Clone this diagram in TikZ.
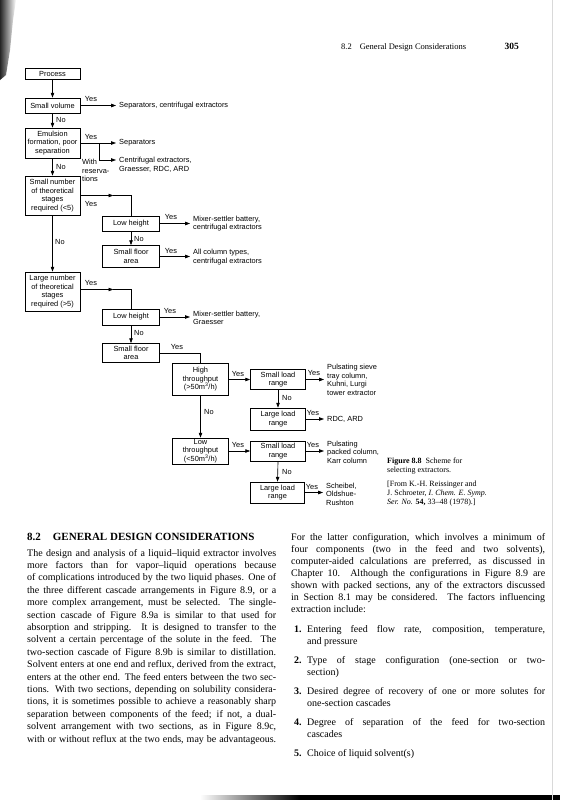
\documentclass[tikz,border=0pt]{standalone}
\usepackage{fontspec}
\setmainfont{Liberation Serif}
\newfontfamily\flowfont{Liberation Sans}
\usetikzlibrary{arrows.meta}
\newcommand{\JL}[1]{\hbox to \hsize{#1}}
\newcommand{\LL}[1]{\hbox{#1}}
\newcommand{\ITM}[2]{\hbox to \hsize{\hbox to 16pt{\hskip3pt\bfseries #1\hfil}\hbox to \dimexpr\hsize-16pt\relax{#2}}}
\newcommand{\ITL}[2]{\hbox{\hbox to 16pt{\hskip3pt\bfseries #1\hfil}#2}}
\newcommand{\ICL}[1]{\hbox{\hskip16pt #1}}
\begin{document}
\begin{tikzpicture}[x=1pt,y=-1pt,
  ff/.style={font=\flowfont\fontsize{7.4}{8.5}\selectfont},
  box/.style={ff,draw,line width=0.65pt,inner sep=0.5pt,align=center},
  ft/.style={ff,inner sep=0pt,align=left},
  lbl/.style={ff,inner sep=0pt},
  arr/.style={line width=0.65pt,-{Triangle[length=4.8pt,width=3.4pt]}},
  oarr/.style={arr,shorten >=3pt},
  ln/.style={line width=0.65pt},
]
\fill[white] (0,0) rectangle (560,800);
\useasboundingbox (0,0) rectangle (560,800);

% scan artefacts
\shade[left color=black!85, right color=white] (0,0) -- (16,0) -- (13,20) -- (10,50) -- (6,75) -- (0,80) -- cycle;
\shade[left color=white, right color=black] (200,795) rectangle (300,800);
\fill[black] (300,795) rectangle (560,800);
\draw[gray!30, line width=0.6pt] (552,0) -- (552,800);

% header
\node[anchor=base west,inner sep=0] (hdr) at (341,49) {\fontsize{8.5}{10}\selectfont 8.2\hskip 8pt General Design Considerations};
\node[anchor=base east,inner sep=0] (pg) at (519,49) {\fontsize{9.5}{10}\selectfont\bfseries 305};

% flowchart boxes
\node[box,minimum width=55pt,minimum height=11pt] (proc) at (52.5,73.5) {Process};
\node[box,minimum width=55pt,minimum height=15pt] (svol) at (52.5,105.5) {Small volume};
\node[box,minimum width=55pt,minimum height=30pt] (emul) at (52.5,143) {Emulsion\\formation, poor\\separation};
\node[box,minimum width=55pt,minimum height=39pt] (snum) at (52.5,195.5) {Small number\\of theoretical\\stages\\required (<5)};
\node[box,minimum width=55pt,minimum height=39pt] (lnum) at (52.5,291.5) {Large number\\of theoretical\\stages\\required (>5)};
\node[box,minimum width=57pt,minimum height=15pt] (lh1) at (131,223.5) {Low height};
\node[box,minimum width=57pt,minimum height=22pt] (fa1) at (131,256.5) {Small floor\\area};
\node[box,minimum width=57pt,minimum height=16pt] (lh2) at (131,317) {Low height};
\node[box,minimum width=57pt,minimum height=19pt] (fa2) at (131,353) {Small floor\\area};
\node[box,minimum width=56pt,minimum height=32pt] (high) at (200.5,379.5) {High\\throughput\\(>50m\textsuperscript{3}/h)};
\node[box,minimum width=55pt,minimum height=20pt] (sl1) at (278,379.5) {Small load\\range};
\node[box,minimum width=55pt,minimum height=22pt] (ll1) at (278,419) {Large load\\range};
\node[box,minimum width=56pt,minimum height=26pt] (low) at (200.5,451) {Low\\throughput\\(<50m\textsuperscript{3}/h)};
\node[box,minimum width=55pt,minimum height=20pt] (sl2) at (278,451) {Small load\\range};
\node[box,minimum width=54pt,minimum height=21pt] (ll2) at (277.5,492.5) {Large load\\range};

% outcomes
\node[ft,anchor=west] (o1) at (119,105.5) {Separators, centrifugal extractors};
\node[ft,anchor=west] (o2) at (119,143) {Separators};
\node[ft,anchor=north west] (o3) at (119,157) {Centrifugal extractors,\\Graesser, RDC, ARD};
\node[ft,anchor=north west] (wr) at (82,159) {With\\reserva-\\tions};
\node[ft,anchor=west] (o4) at (193,223.5) {Mixer-settler battery,\\centrifugal extractors};
\node[ft,anchor=west] (o5) at (193,257) {All column types,\\centrifugal extractors};
\node[ft,anchor=west] (o6) at (193,318) {Mixer-settler battery,\\Graesser};
\node[ft,anchor=west] (o7) at (327,380) {Pulsating sieve\\tray column,\\Kuhni, Lurgi\\tower extractor};
\node[ft,anchor=west] (o8) at (327,419) {RDC, ARD};
\node[ft,anchor=west] (o9) at (327,452) {Pulsating\\packed column,\\Karr column};
\node[ft,anchor=west] (o10) at (326,494) {Scheibel,\\Oldshue-\\Rushton};

% connectors
\draw[arr] (proc.south) -- (svol.north);
\draw[arr] (svol.south) -- (emul.north);
\draw[arr] (emul.south) -- (snum.north);
\draw[arr] (snum.south) -- (lnum.north);
\node[lbl,anchor=west] (n1) at (56,120) {No};
\node[lbl,anchor=west] (n2) at (56,167) {No};
\node[lbl,anchor=west] (n3) at (55,242) {No};

\draw[oarr] (svol.east) -- (o1.west);
\node[lbl] (y1) at (91,99) {Yes};
\draw[oarr] (emul.east) -- (o2.west);
\node[lbl] (y2) at (91,137) {Yes};
\draw[ln] (emul.east) ++(19,0) coordinate (b1) -- ++(0,17) coordinate (b2);
\draw[oarr] (b2) -- (o3.west |- b2);

\draw[arr] (snum.east) -- ++(33,0) coordinate (m1);
\draw[ln] (m1) -| (lh1.north);
\node[lbl] (y3) at (91,204) {Yes};
\draw[oarr] (lh1.east) -- (lh1.east -| o4.west);
\node[lbl] (y4) at (171,217) {Yes};
\draw[arr] (lh1.south) -- (fa1.north);
\node[lbl,anchor=west] (n4) at (134,239) {No};
\draw[oarr] (fa1.east) -- (fa1.east -| o5.west);
\node[lbl] (y5) at (171,251) {Yes};

\draw[arr] ([yshift=2pt]lnum.east) -- ++(33,0) coordinate (m2);
\draw[ln] (m2) -| (lh2.north);
\node[lbl] (y6) at (91,283) {Yes};
\draw[oarr] (lh2.east) -- (lh2.east -| o6.west);
\node[lbl] (y7) at (170,311) {Yes};
\draw[arr] (lh2.south) -- (fa2.north);
\node[lbl,anchor=west] (n5) at (134,333) {No};
\draw[ln] (fa2.east) -| (high.north);
\node[lbl] (y8) at (177,347) {Yes};

\draw[arr] (high.east) -- (sl1.west);
\node[lbl] (y9) at (238,374) {Yes};
\draw[oarr] (sl1.east) -- (sl1.east -| o7.west);
\node[lbl] (y10) at (314,373) {Yes};
\draw[arr] (sl1.south) -- (ll1.north);
\node[lbl,anchor=west] (n6) at (282,398) {No};
\draw[oarr] (ll1.east) -- (ll1.east -| o8.west);
\node[lbl] (y11) at (313,413) {Yes};
\draw[arr] (high.south) -- (low.north);
\node[lbl,anchor=west] (n7) at (204,412) {No};
\draw[arr] (low.east) -- (sl2.west);
\node[lbl] (y12) at (238,445) {Yes};
\draw[oarr] (sl2.east) -- (sl2.east -| o9.west);
\node[lbl] (y13) at (313,445) {Yes};
\draw[arr] (sl2.south) -- (ll2.north);
\node[lbl,anchor=west] (n8) at (282,472) {No};
\draw[oarr] (ll2.east) -- (ll2.east -| o10.west);
\node[lbl] (y14) at (312,487) {Yes};

% caption
\node[anchor=base west,inner sep=0] (cap) at (387,463) {\vtop{\hsize=140pt\fontsize{8}{9.2}\selectfont
\LL{\textbf{Figure 8.8}\hskip 4pt Scheme for}
\LL{selecting extractors.}
\vskip 5pt
\LL{[From K.-H. Reissinger and}
\LL{J. Schroeter, \textit{I. Chem. E. Symp.}}
\LL{\textit{Ser. No.} \textbf{54,} 33–48 (1978).]}}};

% left column
\node[anchor=base west,inner sep=0] (hd) at (27,540) {\fontsize{11}{13}\selectfont\bfseries 8.2\hskip 12pt GENERAL DESIGN CONSIDERATIONS};
\node[anchor=base west,inner sep=0] (lc) at (27,556) {\vtop{\hsize=249pt\fontsize{10}{12.4}\selectfont
\JL{The design and analysis of a liquid–liquid extractor involves}
\JL{more factors than for vapor–liquid operations because}
\JL{of complications introduced by the two liquid phases. One of}
\JL{the three different cascade arrangements in Figure 8.9, or a}
\JL{more complex arrangement, must be selected. The single-}
\JL{section cascade of Figure 8.9a is similar to that used for}
\JL{absorption and stripping. It is designed to transfer to the}
\JL{solvent a certain percentage of the solute in the feed. The}
\JL{two-section cascade of Figure 8.9b is similar to distillation.}
\JL{Solvent enters at one end and reflux, derived from the extract,}
\JL{enters at the other end. The feed enters between the two sec-}
\JL{tions. With two sections, depending on solubility considera-}
\JL{tions, it is sometimes possible to achieve a reasonably sharp}
\JL{separation between components of the feed; if not, a dual-}
\JL{solvent arrangement with two sections, as in Figure 8.9c,}
\JL{with or without reflux at the two ends, may be advantageous.}}};

% right column
\node[anchor=base west,inner sep=0] (rc) at (291,540) {\vtop{\hsize=254pt\fontsize{10}{12}\selectfont
\JL{For the latter configuration, which involves a minimum of}
\JL{four components (two in the feed and two solvents),}
\JL{computer-aided calculations are preferred, as discussed in}
\JL{Chapter 10. Although the configurations in Figure 8.9 are}
\JL{shown with packed sections, any of the extractors discussed}
\JL{in Section 8.1 may be considered. The factors influencing}
\LL{extraction include:}
\vskip 8pt
\ITM{1.}{Entering feed flow rate, composition, temperature,}
\ICL{and pressure}
\vskip 7pt
\ITM{2.}{Type of stage configuration (one-section or two-}
\ICL{section)}
\vskip 7pt
\ITM{3.}{Desired degree of recovery of one or more solutes for}
\ICL{one-section cascades}
\vskip 7pt
\ITM{4.}{Degree of separation of the feed for two-section}
\ICL{cascades}
\vskip 7pt
\ITL{5.}{Choice of liquid solvent(s)}}};
\end{tikzpicture}
\end{document}
